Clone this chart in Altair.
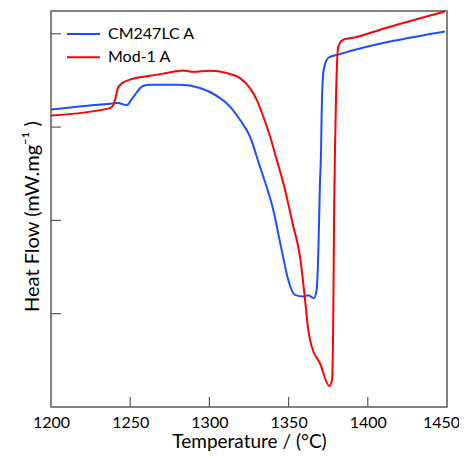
import altair as alt
import pandas as pd

# Temperatures (°C) and heat flow (arbitrary units, tick spacing = 1)
blue_T = [1200, 1239.1, 1242.3, 1247.8, 1251.0, 1253.0, 1258.1, 1262.5, 1281.4, 1294.1, 1304.6,
          1313.0, 1319.3, 1325.6, 1331.9, 1334.0, 1340.3, 1345.6, 1349.8, 1354.0, 1359.3,
          1362.4, 1366.0, 1367.7, 1368.8, 1369.8, 1370.5, 1370.8, 1371.9, 1373.3, 1375.1,
          1382.4, 1448.7]
blue_v = [3.188, 3.253, 3.257, 3.235, 3.30, 3.346, 3.440, 3.453, 3.453, 3.418, 3.335,
          3.220, 3.078, 2.899, 2.577, 2.470, 2.113, 1.684, 1.362, 1.201, 1.183,
          1.198, 1.166, 1.255, 1.684, 2.399, 2.756, 3.078, 3.582, 3.689, 3.743,
          3.782, 4.025]

red_T = [1200, 1237.2, 1239.1, 1240.4, 1242.3, 1243.6, 1247.8, 1262.5, 1273.0, 1283.5, 1289.8,
         1300.4, 1310.9, 1319.3, 1325.6, 1329.9, 1334.0, 1338.3, 1342.5, 1346.7, 1353.0,
         1357.2, 1360.4, 1362.4, 1364.6, 1369.8, 1375.7, 1377.4, 1378.2, 1378.7, 1379.3,
         1379.9, 1381.4, 1384.5, 1393.0, 1407.7, 1448.7]
red_v = [3.124, 3.203, 3.228, 3.292, 3.421, 3.453, 3.496, 3.550, 3.579, 3.606, 3.592,
         3.603, 3.579, 3.525, 3.418, 3.292, 3.113, 2.899, 2.649, 2.399, 1.934,
         1.612, 1.147, 0.826, 0.647, 0.469, 0.225, 0.290, 0.968, 2.041, 2.756,
         3.292, 3.864, 3.936, 3.965, 4.043, 4.239]

series_names = ["CM247LC A", "Mod-1 A"]
series_colors = ["#1a4dff", "#ff0000"]
x_ticks = [1250, 1300, 1350, 1400]
y_ticks = [1, 2, 3, 4]
x_labels = [1200, 1250, 1300, 1350, 1400, 1450]

rows = []
for i, (t, v) in enumerate(zip(blue_T, blue_v)):
    rows.append({"T": t, "v": v, "s": series_names[0], "o": i})
for i, (t, v) in enumerate(zip(red_T, red_v)):
    rows.append({"T": t, "v": v, "s": series_names[1], "o": i})
df = pd.DataFrame(rows)

FONT = "Lato"
GRAY = "#595959"
xscale = alt.Scale(domain=[1200, 1450], nice=False, zero=False)
yscale = alt.Scale(domain=[0, 4.244], nice=False, zero=False)

lines = alt.Chart(df).mark_line(strokeWidth=2, interpolate="monotone").encode(
    x=alt.X("T:Q", scale=xscale,
            axis=alt.Axis(title="Temperature / (°C)", values=x_labels, format="d",
                          ticks=False, tickSize=0,
                          domain=False, grid=False, labelFontSize=16, labelFont=FONT,
                          labelColor="#000000", labelPadding=7, labelFlush=False,
                          labelOffset=alt.condition("datum.value == 1450", alt.value(-6), alt.value(0)),
                          titleFontSize=19, titleFont=FONT, titleFontWeight="normal",
                          titleColor="#000000", titleY=40, titleBaseline="alphabetic")),
    y=alt.Y("v:Q", scale=yscale,
            axis=alt.Axis(title="Heat Flow (mW.mg⁻¹ )", labels=False, ticks=False, tickSize=0,
                          domain=False, grid=False, titleFontSize=20, titleFont=FONT,
                          titleFontWeight="normal", titleColor="#000000",
                          titleX=-9, titleY=205, titleAngle=270, titleBaseline="bottom")),
    color=alt.Color("s:N", scale=alt.Scale(domain=series_names, range=series_colors), legend=None),
    order="o:Q",
)

yt = alt.Chart(pd.DataFrame({"v": y_ticks})).mark_rule(color=GRAY, strokeWidth=1.2).encode(
    y=alt.Y("v:Q", scale=yscale), x=alt.value(0), x2=alt.value(10))
xt = alt.Chart(pd.DataFrame({"T": x_ticks})).mark_rule(color=GRAY, strokeWidth=1.2).encode(
    x=alt.X("T:Q", scale=xscale), y=alt.value(396), y2=alt.value(386))

legend_layers = []
for k, (name, col) in enumerate(zip(series_names, series_colors)):
    ly = 23 + k * 23.3
    legend_layers.append(
        alt.Chart(pd.DataFrame({"s": [name]})).mark_rule(color=col, strokeWidth=2).encode(
            x=alt.value(16), x2=alt.value(49), y=alt.value(ly)))
    legend_layers.append(
        alt.Chart(pd.DataFrame({"s": [name]})).mark_text(
            align="left", baseline="middle", fontSize=16, font=FONT, color="#000000").encode(
            x=alt.value(57), y=alt.value(ly), text="s:N"))

chart = alt.layer(lines, yt, xt, *legend_layers).properties(
    width=396, height=396,
    autosize=alt.AutoSizeParams(type="none"),
    padding={"left": 43, "top": 3, "right": 12, "bottom": 44},
).configure_view(stroke=GRAY, strokeWidth=1.5)

chart.save("out.html", embed_options={"renderer": "svg", "actions": False})
